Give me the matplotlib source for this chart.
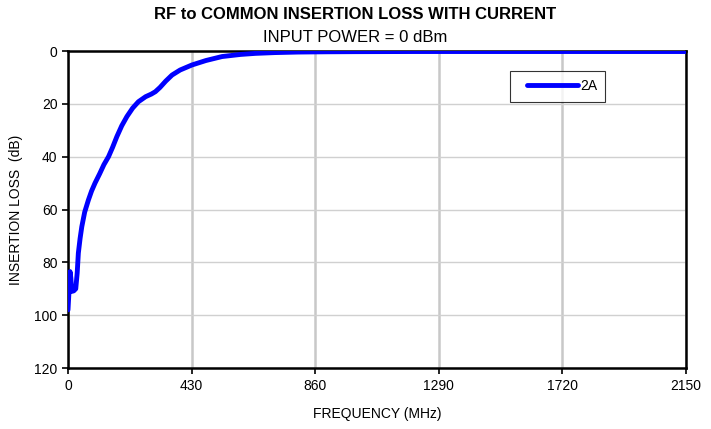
import matplotlib.pyplot as plt
from matplotlib.legend_handler import HandlerLine2D

plt.rcParams['font.family'] = ['Liberation Sans', 'DejaVu Sans']

# measured insertion loss, 2A bias
freq_mhz = [0, 3, 7, 10, 13, 20, 27, 32, 36, 42, 48, 58, 71, 82, 94, 110, 125, 141,
            155, 170, 187, 205, 225, 245, 270, 290, 304, 320, 340, 362, 390, 431,
            480, 536, 600, 652, 720, 800, 900, 1000, 1200, 1500, 1800, 2150]
loss_db = [98, 92, 83.5, 86, 91, 90.8, 90, 84, 76.5, 71, 66.5, 61, 56.4, 53, 50, 46.5, 43, 40,
           36.5, 32.4, 28.3, 24.8, 21.6, 19.2, 17.3, 16.3, 15.4, 13.8, 11.4, 9.1, 7.2, 5.3,
           3.6, 2.1, 1.3, 0.9, 0.6, 0.4, 0.3, 0.25, 0.2, 0.2, 0.2, 0.2]

x_ticks = [0, 430, 860, 1290, 1720, 2150]
y_ticks = [0, 20, 40, 60, 80, 100, 120]

fig = plt.figure(figsize=(7.11, 4.29), dpi=100)
ax = fig.add_axes([68 / 711, 1 - 368 / 429, 618 / 711, 317 / 429])

line, = ax.plot(freq_mhz, loss_db, color='#0000ff', linewidth=3.5, label='2A',
                solid_capstyle='round', zorder=3)

ax.set_xlim(0, 2150)
ax.set_ylim(120, 0)
ax.set_xticks(x_ticks)
ax.set_yticks(y_ticks)
ax.tick_params(axis='both', labelsize=10, length=4, width=1.2, direction='out')
ax.tick_params(axis='x', pad=4)

ax.grid(axis='x', color='#c8c8c8', linewidth=1.8, zorder=0)
ax.grid(axis='y', color='#d0d0d0', linewidth=1.0, zorder=0)
for s in ax.spines.values():
    s.set_linewidth(1.8)
    s.set_color('black')

ax.set_xlabel('FREQUENCY (MHz)', fontsize=10, labelpad=10)
ax.set_ylabel('INSERTION LOSS  (dB)', fontsize=10, labelpad=8)

fig.text(0.5, 0.956, 'RF to COMMON INSERTION LOSS WITH CURRENT', ha='center',
         fontsize=12, fontweight='bold')
fig.text(0.5, 0.903, 'INPUT POWER = 0 dBm', ha='center', fontsize=12)

# extra space to the left of the key line
leg = ax.legend(loc='upper left', bbox_to_anchor=(0.715, 0.937), fontsize=10,
                frameon=True, fancybox=False, edgecolor='black', handlelength=4.3,
                handletextpad=0.15, borderpad=0.6, borderaxespad=0,
                handler_map={line: HandlerLine2D(xpad=0.6)})
leg.get_frame().set_linewidth(0.8)

fig.savefig('out.png', dpi=100)
